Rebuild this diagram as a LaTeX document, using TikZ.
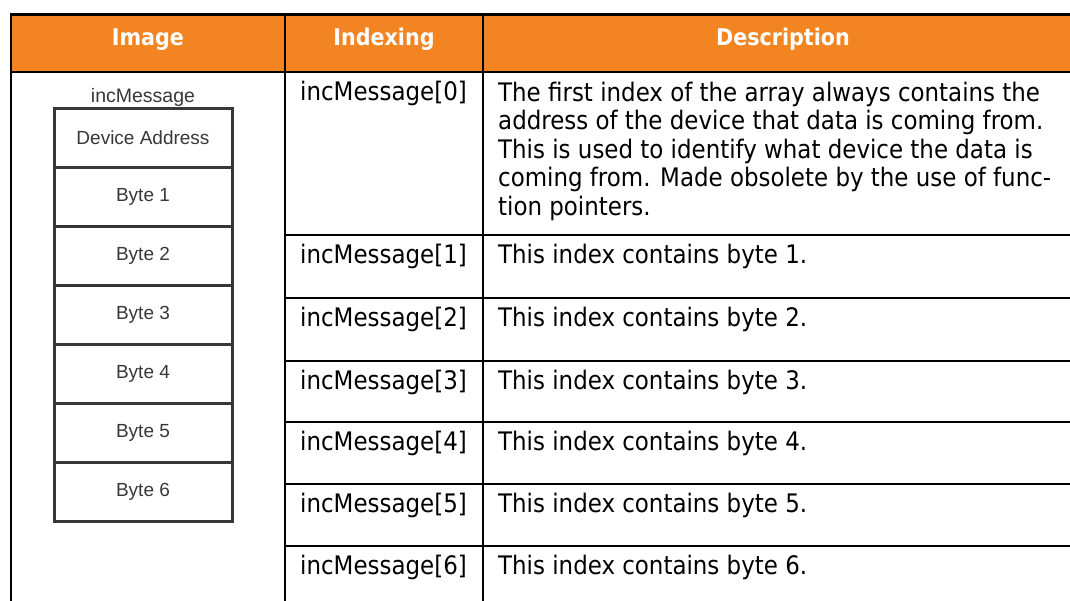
\documentclass[tikz,border=0pt]{standalone}
\usepackage{fontspec}
\setmainfont{DejaVu Sans Condensed}
\newfontfamily\boxfont{Liberation Sans}
\usetikzlibrary{matrix}
\definecolor{headorange}{RGB}{242,133,34}
\definecolor{boxgrey}{RGB}{55,55,55}

\tikzset{
    head/.style={text=white, font=\bfseries\fontsize{23}{27}\selectfont},
    cell/.style={anchor=base west, inner sep=0pt, font=\fontsize{25.5}{28.5}\selectfont},
    rule/.style={line width=2.5pt}
}

\begin{document}
\begin{tikzpicture}[x=1pt, y=-1pt]
    \useasboundingbox (0,0) rectangle (1070,600);
    \clip (0,0) rectangle (1070,600);

    % header row
    \fill[headorange] (11,14) rectangle (1085,72);
    \node[head, anchor=base] (hImage) at (148,45) {Image};
    \node[head, anchor=base] (hIndex) at (384,45) {Indexing};
    \node[head, anchor=base] (hDesc) at (783,45) {Description};

    % grid
    \draw[rule, line width=3pt] (11,14) -- (1085,14);
    \draw[rule] (11,72) -- (1085,72);
    \foreach \x in {11,285,483}
        \draw[rule] (\x,12.5) -- (\x,610);
    \foreach \y in {235,298,361,422,484,546}
        \draw[rule] (285,\y) -- (1085,\y);

    % array picture
    \matrix (msg) [matrix of nodes, anchor=north, inner sep=0pt, row sep=-3pt,
        nodes={draw=boxgrey, line width=3pt, outer sep=0pt, minimum width=178pt,
               minimum height=59pt, text=boxgrey, font=\boxfont\fontsize{19}{22}\selectfont}]
        at (143,106.5) {
        Device Address \\
        Byte 1 \\
        Byte 2 \\
        Byte 3 \\
        Byte 4 \\
        Byte 5 \\
        Byte 6 \\
    };
    \node[anchor=base, inner sep=0pt, text=boxgrey, font=\boxfont\fontsize{19.5}{22}\selectfont]
        (msgName) at ([yshift=4pt]msg.north) {incMessage};

    % indexing and description
    \node[cell] (idx0) at (300,100) {incMessage[0]};
    \node[cell, anchor=north west, align=left] (desc0) at (498,81.5)
        {The first index of the array always contains the\\
         address of the device that data is coming from.\\
         This is used to identify what device the data is\\
         coming from. Made obsolete by the use of func-\\
         tion pointers.};
    \foreach \i/\y in {1/235,2/298,3/361,4/422,5/484,6/546} {
        \node[cell] (idx\i) at (300,\y+28) {incMessage[\i]};
        \node[cell] (desc\i) at (498,\y+28) {This index contains byte \i.};
    }
\end{tikzpicture}
\end{document}
